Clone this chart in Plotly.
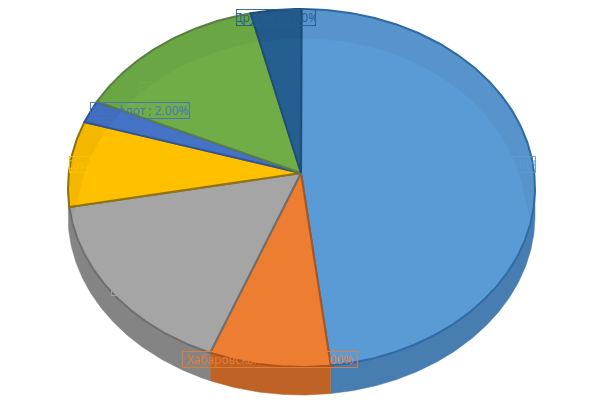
import math
import plotly.graph_objects as go

categories = ["Приморский край", "Хабаровская область", "Амурская обл.", "Сахалин", "Морфлот", "Камчатка", "Другие"]
values = [48.0, 8.4, 16.9, 7.7, 2.0, 13.5, 3.5]
label_pct = [48, 9, 17, 8, 2, 13, 3]

top_colors = ["#5B9BD5", "#ED7D31", "#A5A5A5", "#FFC000", "#4472C4", "#70AD47", "#255E91"]
side_colors = ["#477DB0", "#BE6226", "#848484", "#CC9A00", "#365B9D", "#5A8A39", "#1E4B74"]
edge_colors = ["#2F6CA6", "#A9551F", "#6F6F6F", "#8F7410", "#2F5597", "#5C7F45", "#1F4E79"]

# label box: left edge, centre y, width (pixels)
label_box = [(395, 164, 140), (183, 359, 174), (112, 287, 110),
             (70, 164, 82), (91, 110.5, 98), (140, 90, 100), (237, 17, 78)]

CX, CY, RX, RY = 301.5, 188.0, 233.5, 179.0
AX, AY = 301.0, 173.0
DEPTH = 28.0


def pt(deg, scale=1.0, dy=0.0):
    t = math.radians(deg)
    return (CX + RX * scale * math.sin(t), CY - RY * scale * math.cos(t) + dy)


def arc(a, b, scale=1.0, dy=0.0):
    n = max(2, int(abs(b - a) * 1.5) + 1)
    return [pt(a + (b - a) * i / (n - 1), scale, dy) for i in range(n)]


def bevel_scale(deg):
    c = math.cos(math.radians(deg * 0.9))
    return 1.0 - 0.165 * max(c, 0.0) ** 0.62


def bevel_arc(a, b):
    n = max(2, int(abs(b - a) * 1.5) + 1)
    out = []
    for i in range(n):
        d = a + (b - a) * i / (n - 1)
        out.append(pt(d, bevel_scale(d if d <= 180 else d - 360)))
    return out


def poly(points, fill, line=None, width=0.0):
    return go.Scatter(
        x=[p[0] for p in points] + [points[0][0]],
        y=[p[1] for p in points] + [points[0][1]],
        mode="lines", fill="toself", fillcolor=fill,
        line=dict(color=line or fill, width=width),
        hoverinfo="skip", showlegend=False)


total = sum(values)
angles = [0.0]
for v in values:
    angles.append(angles[-1] + v / total * 360)

fig = go.Figure()

# side walls (front half of the rim); a sliver near the far left joins the wall before it
for i in range(len(values)):
    a = max(angles[i], 90.0)
    b = min(angles[i + 1], 270.0)
    if a > 262:
        continue
    if b > 262:
        b = 270.0
    if b > a:
        pts = arc(a, b) + arc(b, a, dy=DEPTH)
        fig.add_trace(poly(pts, side_colors[i], side_colors[i], 0.5))

# top faces
for i in range(len(values)):
    pts = [(AX, AY)] + arc(angles[i], angles[i + 1])
    fig.add_trace(poly(pts, top_colors[i], edge_colors[i], 2))

# faint bevel band along the far half of the rim, tapering towards the sides
for i in range(len(values)):
    for lo, hi in ((0.0, 100.0), (260.0, 360.0)):
        a = max(angles[i], lo)
        b = min(angles[i + 1], hi)
        if b > a:
            pts = arc(a, b) + bevel_arc(b, a)
            fig.add_trace(poly(pts, "rgba(0,0,0,0.04)"))

annotations = []
for name, pct, color, (x, y, w) in zip(categories, label_pct, top_colors, label_box):
    annotations.append(dict(
        x=x - 1, y=y, xref="x", yref="y", xanchor="left", yanchor="middle",
        width=w, height=15, align="center", valign="middle",
        text=f"{name} ; {pct:.2f}%", showarrow=False,
        font=dict(family="Noto Sans", size=12, color=color),
        bordercolor=color, borderwidth=1, borderpad=0, opacity=0.9))

fig.update_layout(
    width=604, height=405, margin=dict(l=0, r=0, t=0, b=0),
    paper_bgcolor="white", plot_bgcolor="white", showlegend=False,
    xaxis=dict(range=[0, 604], visible=False, fixedrange=True),
    yaxis=dict(range=[405, 0], visible=False, fixedrange=True),
    annotations=annotations)

fig.write_html("out.html", config=dict(displayModeBar=False),
               post_script="document.body.style.margin='0';")
